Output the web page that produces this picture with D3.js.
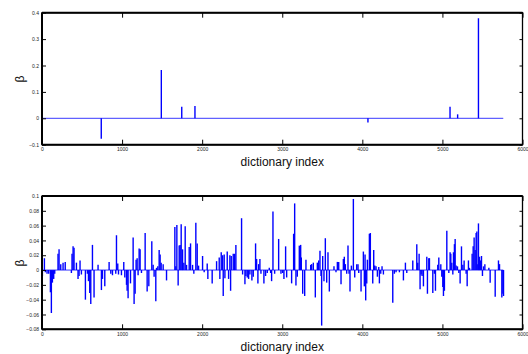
<!DOCTYPE html>
<html>
<head>
<meta charset="utf-8">
<script src="https://cdn.jsdelivr.net/npm/d3@7"></script>
<style>
  body { margin: 0; background: #fff; }
  svg { display: block; font-family: "Liberation Sans", Arial, sans-serif; }
  .tick text { fill: #222; font-size: 5px; }
  .tick line { stroke: #000; stroke-width: 1; }
</style>
</head>
<body>
<div id="chart"></div>
<script>
// dictionary size (end of the zero baseline)
const dictSize = 5760;

// top panel: sparse coefficients
const sparseIndex = [740, 1490, 1745, 1910, 4070, 5095, 5190, 5450];
const sparseBeta = [-0.077, 0.183, 0.044, 0.047, -0.016, 0.044, 0.015, 0.379];

// bottom panel: dense coefficients
const denseIndex = [
  5, 30, 42, 63, 84, 105, 117, 130, 146, 159, 200, 213, 234, 263, 290, 367, 375, 388, 400, 430,
  450, 463, 475, 492, 542, 567, 580, 596, 609, 630, 650, 700, 742, 755, 784, 838, 859, 880, 921, 930,
  946, 955, 992, 1021, 1034, 1055, 1063, 1075, 1105, 1138, 1150, 1163, 1175, 1188, 1200, 1213, 1225, 1242, 1288, 1313,
  1334, 1371, 1388, 1400, 1421, 1430, 1446, 1463, 1475, 1488, 1513, 1555, 1659, 1671, 1684, 1700, 1713, 1725, 1738, 1755,
  1771, 1788, 1805, 1838, 1855, 1880, 1896, 1921, 1938, 1955, 2005, 2025, 2063, 2071, 2125, 2180, 2213, 2221, 2238, 2255,
  2263, 2275, 2284, 2313, 2330, 2346, 2355, 2363, 2388, 2405, 2421, 2492, 2505, 2534, 2546, 2563, 2580, 2596, 2621, 2638,
  2667, 2680, 2696, 2705, 2721, 2734, 2771, 2792, 2813, 2838, 2855, 2867, 2884, 2905, 2955, 2984, 3005, 3021, 3042, 3055,
  3117, 3142, 3155, 3171, 3188, 3213, 3230, 3238, 3255, 3280, 3296, 3355, 3367, 3388, 3413, 3438, 3455, 3471, 3484, 3492,
  3505, 3521, 3538, 3555, 3571, 3588, 3646, 3671, 3688, 3705, 3734, 3763, 3775, 3788, 3805, 3821, 3834, 3846, 3863, 3888,
  3905, 3930, 3946, 3955, 3984, 4013, 4025, 4034, 4042, 4055, 4063, 4088, 4100, 4130, 4142, 4155, 4171, 4188, 4205, 4213,
  4230, 4246, 4263, 4380, 4400, 4421, 4463, 4513, 4538, 4555, 4630, 4680, 4692, 4709, 4721, 4734, 4746, 4763, 4805, 4813,
  4830, 4838, 4880, 4900, 4913, 4942, 4955, 4980, 4992, 5005, 5013, 5025, 5055, 5080, 5096, 5105, 5117, 5130, 5138, 5150,
  5159, 5171, 5188, 5205, 5221, 5238, 5255, 5271, 5296, 5309, 5325, 5338, 5371, 5384, 5396, 5409, 5421, 5430, 5442, 5450,
  5463, 5475, 5488, 5500, 5513, 5530, 5580, 5596, 5659, 5700, 5713, 5742, 5755, 5763
];
const denseBeta = [
  -0.008, 0.016, -0.003, -0.005, -0.005, -0.030, -0.058, -0.017, -0.012, -0.005, 0.022, 0.028, 0.008, 0.010, 0.011, -0.004, 0.022, 0.032, 0.030, 0.010,
  -0.012, -0.008, 0.013, -0.006, -0.040, -0.005, -0.015, -0.031, -0.046, 0.034, -0.037, 0.007, -0.027, -0.012, -0.022, 0.011, -0.005, -0.007, -0.005, 0.047,
  0.009, -0.006, -0.007, 0.011, -0.010, -0.020, -0.028, -0.038, -0.018, 0.044, -0.046, -0.032, 0.014, 0.016, -0.007, 0.029, 0.028, -0.004, 0.050, -0.029,
  -0.022, 0.039, 0.007, -0.009, -0.042, 0.003, 0.005, 0.027, 0.021, 0.010, 0.008, -0.014, 0.058, 0.005, 0.061, -0.021, 0.033, 0.034, 0.062, 0.028,
  0.010, 0.059, 0.007, 0.031, 0.036, 0.007, -0.005, 0.064, 0.036, 0.006, 0.019, -0.003, 0.009, -0.012, -0.018, 0.012, 0.017, -0.012, 0.024, 0.020,
  -0.035, 0.021, -0.011, 0.025, -0.012, 0.020, -0.028, 0.019, 0.022, 0.022, 0.034, 0.070, -0.006, -0.019, -0.008, -0.010, -0.012, -0.006, -0.014, -0.009,
  0.036, 0.015, -0.018, 0.008, 0.015, -0.005, -0.018, -0.008, -0.004, 0.003, -0.004, -0.015, 0.079, -0.005, 0.042, -0.005, -0.004, -0.012, 0.032, -0.010,
  -0.018, 0.049, 0.090, -0.021, -0.009, 0.033, 0.034, 0.017, -0.032, -0.035, 0.014, 0.007, 0.008, 0.010, -0.037, 0.010, 0.013, 0.026, -0.008, -0.075,
  0.019, -0.015, 0.043, -0.017, 0.024, -0.029, 0.005, -0.003, 0.011, 0.011, -0.019, 0.015, 0.018, 0.008, -0.005, 0.033, -0.005, -0.029, 0.006, 0.096,
  -0.010, 0.008, 0.008, -0.004, -0.029, 0.025, -0.022, 0.021, -0.041, -0.018, 0.014, 0.049, 0.050, -0.018, 0.027, 0.006, 0.005, -0.009, 0.004, -0.018,
  -0.005, 0.005, -0.006, -0.044, -0.005, -0.003, -0.003, -0.014, 0.010, -0.004, 0.013, 0.035, 0.010, 0.022, -0.026, -0.006, -0.008, -0.022, 0.018, -0.032,
  0.016, 0.016, -0.031, -0.005, -0.028, 0.007, 0.017, 0.008, -0.009, -0.023, -0.035, -0.028, 0.053, -0.004, 0.024, 0.022, 0.010, -0.006, 0.024, 0.035,
  0.042, 0.006, 0.005, -0.004, -0.018, 0.032, 0.007, 0.013, -0.005, -0.022, 0.013, 0.003, 0.022, 0.032, 0.044, 0.027, 0.050, 0.052, 0.008, 0.063,
  0.018, 0.013, 0.019, -0.008, 0.005, 0.008, 0.003, -0.017, -0.036, 0.013, 0.008, -0.037, -0.032, -0.035
];

const xTicks = [0, 1000, 2000, 3000, 4000, 5000, 6000];
const topYTicks = [-0.1, 0, 0.1, 0.2, 0.3, 0.4];
const bottomYTicks = [-0.08, -0.06, -0.04, -0.02, 0, 0.02, 0.04, 0.06, 0.08, 0.1];

const width = 528, height = 354;
const svg = d3.select('#chart').append('svg')
  .attr('width', width)
  .attr('height', height);

const x = d3.scaleLinear().domain([0, 6000]).range([42, 522.5]);

function drawPanel(top, bottom, yDomain, yTicks, idx, vals, labelY, betaY) {
  const y = d3.scaleLinear().domain(yDomain).range([bottom, top]);
  const g = svg.append('g');

  // baseline
  g.append('line')
    .attr('x1', x(0)).attr('x2', x(dictSize))
    .attr('y1', y(0)).attr('y2', y(0))
    .attr('stroke', '#3a3aff')
    .attr('stroke-width', 1);

  // stems
  g.selectAll('.stem')
    .data(idx.map((d, i) => ({ i: d, v: vals[i] })))
    .enter()
    .append('line')
    .attr('class', 'stem')
    .attr('x1', (d) => x(d.i)).attr('x2', (d) => x(d.i))
    .attr('y1', y(0)).attr('y2', (d) => y(d.v))
    .attr('stroke', '#0000ff')
    .attr('stroke-width', 1.4);

  const fmt = (d) => d3.format('~g')(+d.toFixed(3));

  g.append('g')
    .attr('transform', `translate(0,${bottom})`)
    .call(d3.axisBottom(x).tickValues(xTicks).tickSize(-5).tickPadding(3).tickFormat(d3.format('d')))
    .call((a) => a.select('.domain').remove());

  g.append('g')
    .attr('transform', `translate(0,${top})`)
    .call(d3.axisTop(x).tickValues(xTicks).tickSize(-5).tickFormat(''))
    .call((a) => a.select('.domain').remove());

  g.append('g')
    .attr('transform', `translate(${x(0)},0)`)
    .call(d3.axisLeft(y).tickValues(yTicks).tickSize(-4).tickPadding(3).tickFormat(fmt))
    .call((a) => a.select('.domain').remove());

  g.append('g')
    .attr('transform', `translate(${x(6000)},0)`)
    .call(d3.axisRight(y).tickValues(yTicks).tickSize(-3).tickFormat(''))
    .call((a) => a.select('.domain').remove());

  g.selectAll('.tick text').attr('font-family', null).attr('font-size', null);

  // frame: thin sides, heavier top and bottom
  g.append('rect')
    .attr('x', x(0)).attr('y', top)
    .attr('width', x(6000) - x(0)).attr('height', bottom - top)
    .attr('fill', 'none')
    .attr('stroke', '#000')
    .attr('stroke-width', 1.3);
  g.append('line')
    .attr('x1', x(0)).attr('x2', x(6000)).attr('y1', top).attr('y2', top)
    .attr('stroke', '#000').attr('stroke-width', 2);
  g.append('line')
    .attr('x1', x(0)).attr('x2', x(6000)).attr('y1', bottom).attr('y2', bottom)
    .attr('stroke', '#000').attr('stroke-width', 2);
  g.append('line')
    .attr('x1', x(0)).attr('x2', x(0)).attr('y1', top).attr('y2', bottom)
    .attr('stroke', '#000').attr('stroke-width', 2);

  g.append('text')
    .attr('x', (x(0) + x(6000)) / 2)
    .attr('y', labelY)
    .attr('text-anchor', 'middle')
    .attr('font-size', 12)
    .attr('fill', '#111')
    .text('dictionary index');

  g.append('text')
    .attr('transform', `translate(24,${betaY}) rotate(-90)`)
    .attr('text-anchor', 'middle')
    .attr('font-size', 12)
    .attr('fill', '#111')
    .text('β');
}

drawPanel(12.7, 144.7, [-0.1, 0.4], topYTicks, sparseIndex, sparseBeta, 166, 79);
drawPanel(196, 329.3, [-0.08, 0.1], bottomYTicks, denseIndex, denseBeta, 351, 263);
</script>
</body>
</html>
